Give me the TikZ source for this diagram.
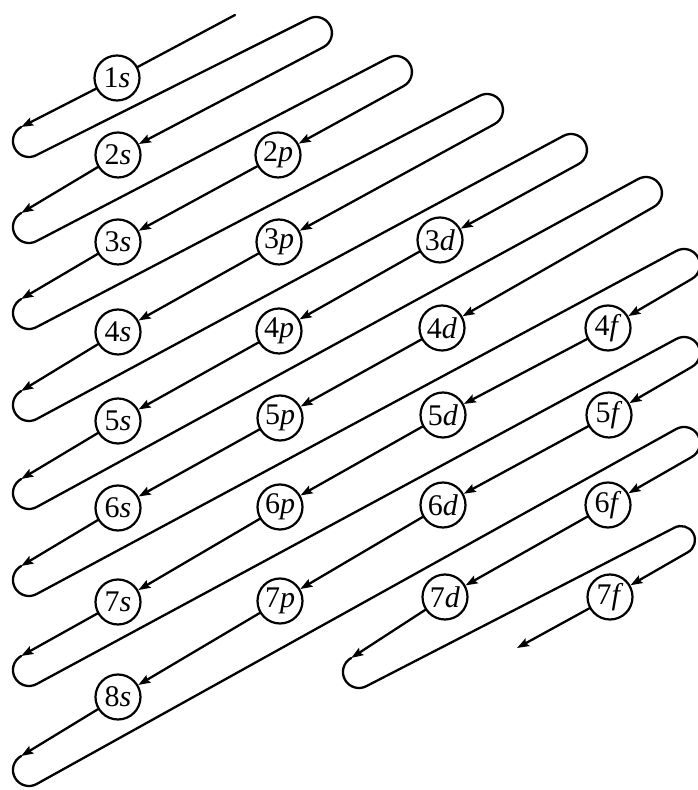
\documentclass[tikz,border=0pt]{standalone}
\usepackage{fontspec}
\setmainfont{Liberation Serif}
\usetikzlibrary{arrows.meta}
\begin{document}
\begin{tikzpicture}[x=1pt,y=1pt,
  orb/.style={circle,draw,line width=2.2pt,minimum size=45pt,inner sep=0pt,fill=white,
    font=\fontsize{30}{30}\selectfont},
  ln/.style={line width=2.3pt,line cap=round,line join=round},
  arr/.style={ln,-{Stealth[length=12pt,width=8.5pt,inset=2pt]}},
  lu/.style={start angle=119,end angle=299,radius=16},
  ru/.style={start angle=119,end angle=-61,radius=16}]
\fill[white] (0,0) rectangle (698,790);
\useasboundingbox (0,0) rectangle (698,790);

% orbitals
\node[orb] (n1s) at (117,712) {1\textit{s}};
\node[orb] (n2s) at (118,635) {2\textit{s}};
\node[orb] (n2p) at (278,635) {2\textit{p}};
\node[orb] (n3s) at (118,548) {3\textit{s}};
\node[orb] (n3p) at (279,548) {3\textit{p}};
\node[orb] (n3d) at (440,550) {3\textit{d}};
\node[orb] (n4s) at (118,458) {4\textit{s}};
\node[orb] (n4p) at (279,459) {4\textit{p}};
\node[orb] (n4d) at (442,462) {4\textit{d}};
\node[orb] (n4f) at (608,462) {4\textit{f}};
\node[orb] (n5s) at (118,369) {5\textit{s}};
\node[orb] (n5p) at (280,372) {5\textit{p}};
\node[orb] (n5d) at (443,375) {5\textit{d}};
\node[orb] (n5f) at (609,375) {5\textit{f}};
\node[orb] (n6s) at (118,282) {6\textit{s}};
\node[orb] (n6p) at (280,283) {6\textit{p}};
\node[orb] (n6d) at (443,285) {6\textit{d}};
\node[orb] (n6f) at (608,285) {6\textit{f}};
\node[orb] (n7s) at (118,188) {7\textit{s}};
\node[orb] (n7p) at (280,189) {7\textit{p}};
\node[orb] (n7d) at (445,193) {7\textit{d}};
\node[orb] (n7f) at (610,193) {7\textit{f}};
\node[orb] (n8s) at (118,93) {8\textit{s}};

% turning points
\coordinate (start) at (235,775);
\coordinate (fin) at (517,142);
\coordinate (L1) at (21.2,663);
\coordinate (L2) at (21.2,577);
\coordinate (L3) at (21.2,491);
\coordinate (L4) at (21.2,399);
\coordinate (L5) at (21.2,311);
\coordinate (L6) at (21.2,224);
\coordinate (L7) at (21.2,134);
\coordinate (L8) at (21.2,34);
\coordinate (L9) at (351.2,132);
\coordinate (R1) at (308.2,771);
\coordinate (R2) at (388.2,732);
\coordinate (R3) at (479.2,694);
\coordinate (R4) at (563.2,654);
\coordinate (R5) at (638.2,611);
\coordinate (R6) at (676.2,539);
\coordinate (R7) at (676.2,451);
\coordinate (R8) at (676.2,361);
\coordinate (R9) at (674.2,262.2);

% diagonal 1
\draw[ln] (start) -- (n1s);
\draw[arr] (n1s) -- (L1);
% diagonal 2
\draw[arr] (L1) arc[lu] -- (R1) arc[ru] -- (n2s);
\draw[arr] (n2s) -- (L2);
% diagonal 3
\draw[arr] (L2) arc[lu] -- (R2) arc[ru] -- (n2p);
\draw[arr] (n2p) -- (n3s);
\draw[arr] (n3s) -- (L3);
% diagonal 4
\draw[arr] (L3) arc[lu] -- (R3) arc[ru] -- (n3p);
\draw[arr] (n3p) -- (n4s);
\draw[arr] (n4s) -- (L4);
% diagonal 5
\draw[arr] (L4) arc[lu] -- (R4) arc[ru] -- (n3d);
\draw[arr] (n3d) -- (n4p);
\draw[arr] (n4p) -- (n5s);
\draw[arr] (n5s) -- (L5);
% diagonal 6
\draw[arr] (L5) arc[lu] -- (R5) arc[ru] -- (n4d);
\draw[arr] (n4d) -- (n5p);
\draw[arr] (n5p) -- (n6s);
\draw[arr] (n6s) -- (L6);
% diagonal 7
\draw[arr] (L6) arc[lu] -- (R6) arc[ru] -- (n4f);
\draw[arr] (n4f) -- (n5d);
\draw[arr] (n5d) -- (n6p);
\draw[arr] (n6p) -- (n7s);
\draw[arr] (n7s) -- (L7);
% diagonal 8
\draw[arr] (L7) arc[lu] -- (R7) arc[ru] -- (n5f);
\draw[arr] (n5f) -- (n6d);
\draw[arr] (n6d) -- (n7p);
\draw[arr] (n7p) -- (n8s);
\draw[arr] (n8s) -- (L8);
% diagonal 9
\draw[arr] (L8) arc[lu] -- (R8) arc[ru] -- (n6f);
\draw[arr] (n6f) -- (n7d);
\draw[arr] (n7d) -- (L9);
% diagonal 10
\draw[arr] (L9) arc[lu] -- (R9) arc[start angle=119,end angle=-61,radius=14] -- (n7f);
\draw[arr] (n7f) -- (fin);
\end{tikzpicture}
\end{document}
